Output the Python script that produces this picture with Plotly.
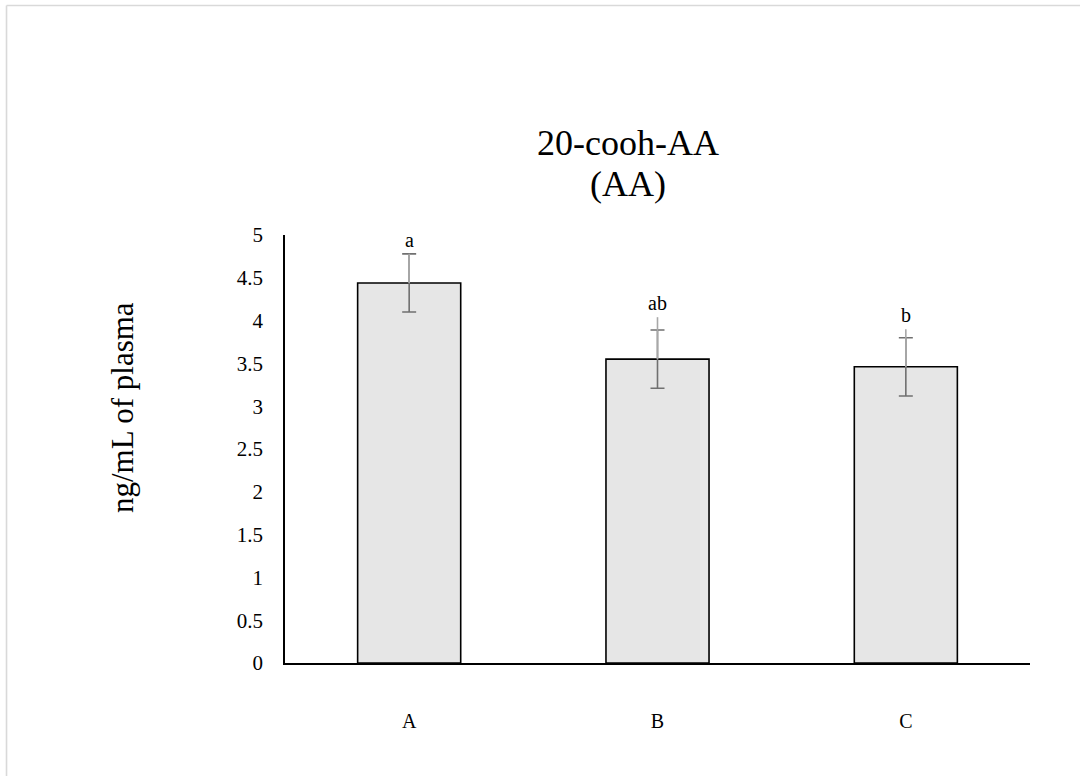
import plotly.graph_objects as go

# Plasma 20-COOH-AA by group
groups = ["A", "B", "C"]
means = [4.44, 3.55, 3.46]
sem = [0.34, 0.34, 0.34]
upper_extent = [0.34, 0.49, 0.44]   # upper whisker reach (second error series)
letters = ["a", "ab", "b"]
y_ticks = [0, 0.5, 1, 1.5, 2, 2.5, 3, 3.5, 4, 4.5, 5]
tick_text = ["0", "0.5", "1", "1.5", "2", "2.5", "3", "3.5", "4", "4.5", "5"]

SERIF = "Times New Roman, Liberation Serif, serif"

fig = go.Figure()

fig.add_trace(go.Bar(
    x=groups, y=means, width=0.415,
    marker=dict(color="#e6e6e6", line=dict(color="#000000", width=1.6)),
    error_y=dict(type="data", array=sem, symmetric=True,
                 color="#707070", thickness=1.6, width=7),
    showlegend=False, hoverinfo="skip",
))

# lighter upper whisker drawn on top of the bars
fig.add_trace(go.Scatter(
    x=groups, y=means, mode="markers",
    marker=dict(size=1, color="rgba(0,0,0,0)"),
    error_y=dict(type="data", array=upper_extent, arrayminus=[0, 0, 0],
                 symmetric=False, color="#a8a8a8", thickness=1.6, width=0),
    showlegend=False, hoverinfo="skip",
))

for g, m, e, u, lab in zip(groups, means, sem, upper_extent, letters):
    top = m + max(e, u)
    fig.add_annotation(x=g, y=top, text=lab, showarrow=False,
                       yanchor="bottom", yshift=1,
                       font=dict(family=SERIF, size=20, color="#000000"))

# chart title on two lines
fig.add_annotation(xref="paper", yref="paper", x=0.46, y=1.0,
                   yshift=92, yanchor="middle", text="20-cooh-AA",
                   showarrow=False,
                   font=dict(family=SERIF, size=36, color="#000000"))
fig.add_annotation(xref="paper", yref="paper", x=0.46, y=1.0,
                   yshift=51, yanchor="middle", text="(AA)",
                   showarrow=False,
                   font=dict(family=SERIF, size=36, color="#000000"))

# value axis title
fig.add_annotation(xref="paper", yref="paper", x=-0.2188, y=0.598,
                   xanchor="center", yanchor="middle", textangle=-90,
                   text="ng/mL of plasma", showarrow=False,
                   font=dict(family=SERIF, size=31, color="#000000"))

# outer frame of the chart area (top and left edges)
frame = dict(color="#d9d9d9", width=1.6)
fig.add_shape(type="line", xref="paper", yref="paper",
              x0=-0.3738, x1=1.3, y0=1.5362, y1=1.5362, line=frame, layer="below")
fig.add_shape(type="line", xref="paper", yref="paper",
              x0=-0.3738, x1=-0.3738, y0=-0.5, y1=1.5362, line=frame, layer="below")

fig.update_layout(
    width=1080, height=776,
    margin=dict(l=285, r=50, t=235, b=113),
    paper_bgcolor="#ffffff", plot_bgcolor="#ffffff",
    bargap=0.585,
    font=dict(family=SERIF, color="#000000"),
    xaxis=dict(
        showline=True, linecolor="#000000", linewidth=1.6,
        showgrid=False, zeroline=False, ticks="",
        tickfont=dict(family=SERIF, size=20, color="#000000"),
        ticklabelstandoff=39, fixedrange=True,
    ),
    yaxis=dict(
        range=[0, 5], tickvals=y_ticks, ticktext=tick_text,
        showline=True, linecolor="#000000", linewidth=1.6,
        showgrid=False, zeroline=False, ticks="",
        tickfont=dict(family=SERIF, size=21, color="#000000"),
        ticklabelstandoff=16,
    ),
)

fig.write_html("out.html")
